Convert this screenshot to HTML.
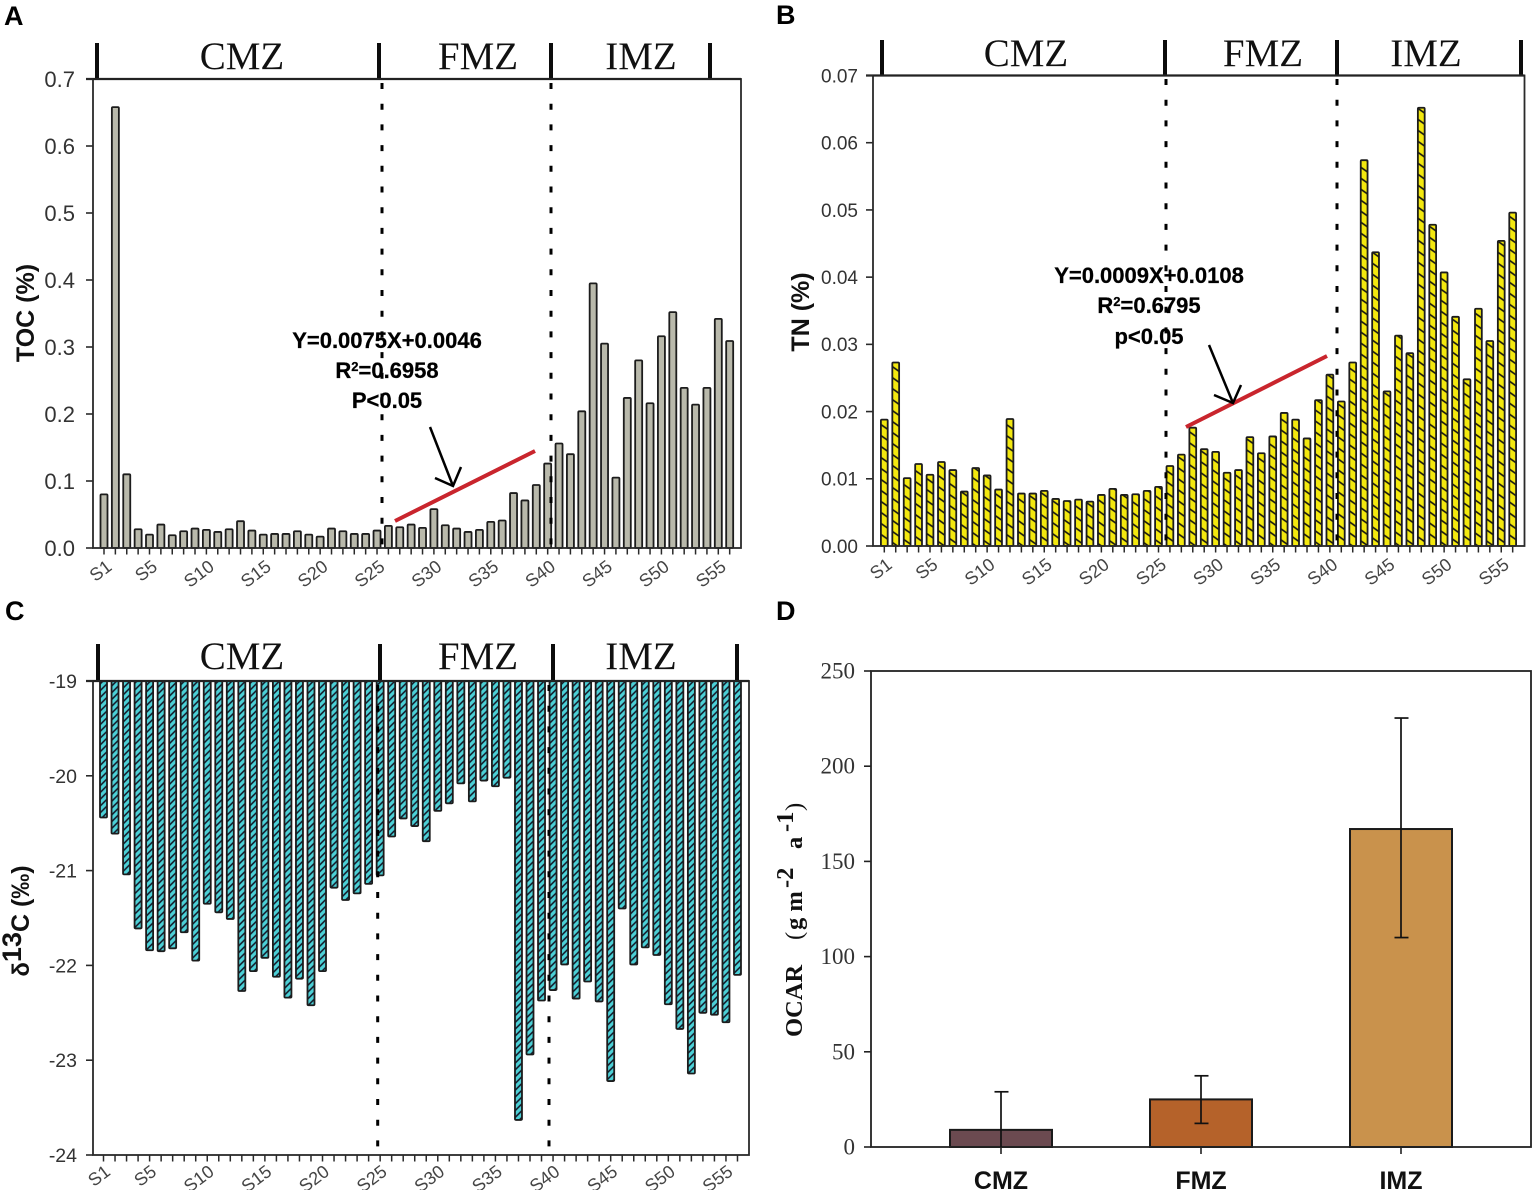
<!DOCTYPE html>
<html lang="en">
<head>
<meta charset="utf-8">
<title>TOC, TN, δ13C and OCAR by zone</title>
<style>
html,body{margin:0;padding:0;background:#fff;}
svg{display:block;}
text{font-family:"Liberation Sans",sans-serif;}
.serif{font-family:"Liberation Serif",serif;}
.zone{font-family:"Liberation Serif",serif;font-size:39px;fill:#111;text-anchor:middle;}
.letter{font-size:27px;font-weight:bold;fill:#000;}
.eq{font-size:22px;font-weight:bold;fill:#000;text-anchor:middle;stroke:#000;stroke-width:.25px;}
.ytitle{font-weight:bold;fill:#111;text-anchor:middle;}
</style>
</head>
<body>
<svg id="fig" xmlns="http://www.w3.org/2000/svg" width="1532" height="1190" viewBox="0 0 1532 1190">
<defs>
<pattern id="hatchB" patternUnits="userSpaceOnUse" width="9" height="9" patternTransform="rotate(35)">
<rect width="9" height="9" fill="#f3e80f"/><line x1="0" y1="4.5" x2="9" y2="4.5" stroke="#111" stroke-width="1.6"/>
</pattern>
<pattern id="hatchC" patternUnits="userSpaceOnUse" width="4.8" height="4.8" patternTransform="rotate(-45)">
<rect width="4.8" height="4.8" fill="#4cd0d6"/><line x1="0" y1="2.4" x2="4.8" y2="2.4" stroke="#112" stroke-width="1.5"/>
</pattern>
</defs>
<rect width="1532" height="1190" fill="#fff"/>

<text class="letter" x="4" y="25">A</text>
<text class="letter" x="776" y="24">B</text>
<text class="letter" x="5" y="620">C</text>
<text class="letter" x="776" y="620">D</text>

<g id="panelA"></g>
<g id="panelB"></g>
<g id="panelC"></g>
<g id="panelD"></g>

<text class="ytitle" font-size="25" transform="translate(34,313) rotate(-90)">TOC (%)</text>
<text class="ytitle" font-size="25" transform="translate(809,312) rotate(-90)">TN (%)</text>
<text class="ytitle" font-size="25" transform="translate(29,921) rotate(-90)"><tspan font-size="24">δ</tspan><tspan font-size="27" dy="-8">13</tspan><tspan dy="8">C (‰)</tspan></text>
<text class="ytitle serif" font-size="24.5" style="text-anchor:start" transform="translate(802,1037) rotate(-90)"><tspan x="0">OCAR</tspan><tspan x="97" font-weight="normal">(</tspan><tspan x="107">g m</tspan><tspan x="149" dy="-9">-2</tspan><tspan x="188" dy="9">a</tspan><tspan x="205" dy="-9">-1</tspan><tspan x="226" dy="9" font-weight="normal">)</tspan></text>

<g>
<text class="eq" x="387" y="348">Y=0.0075X+0.0046</text>
<text class="eq" x="387" y="378">R<tspan font-size="13" dy="-7">2</tspan><tspan dy="7">=0.6958</tspan></text>
<text class="eq" x="387" y="408">P&lt;0.05</text>
<line x1="395" y1="521" x2="535" y2="451" stroke="#c9252d" stroke-width="4"/>
<path d="M430 427 L453 486 M435 478 L453 486 L461 467" fill="none" stroke="#000" stroke-width="2.5"/>
</g>
<g>
<text class="eq" x="1149" y="283">Y=0.0009X+0.0108</text>
<text class="eq" x="1149" y="313">R<tspan font-size="13" dy="-7">2</tspan><tspan dy="7">=0.6795</tspan></text>
<text class="eq" x="1149" y="344">p&lt;0.05</text>
<line x1="1186" y1="427" x2="1327" y2="356" stroke="#c9252d" stroke-width="4"/>
<path d="M1209 345 L1233 403 M1214 395 L1233 403 L1241 385" fill="none" stroke="#000" stroke-width="2.5"/>
</g>
</svg>

<script>
var sampleTickLabels = ["S1","S5","S10","S15","S20","S25","S30","S35","S40","S45","S50","S55"];
var sampleTickNumbers = [1,5,10,15,20,25,30,35,40,45,50,55];

var tocValues = [0.08,0.658,0.11,0.028,0.02,0.035,0.019,0.025,0.029,0.027,0.024,0.028,0.04,0.026,0.02,0.021,0.021,0.025,0.02,0.017,0.029,0.025,0.021,0.021,0.026,0.033,0.031,0.035,0.03,0.058,0.034,0.029,0.024,0.027,0.039,0.041,0.082,0.071,0.094,0.126,0.156,0.14,0.204,0.395,0.305,0.105,0.224,0.28,0.216,0.316,0.352,0.239,0.214,0.239,0.342,0.309];
var tocTicks = [0,0.1,0.2,0.3,0.4,0.5,0.6,0.7];
var tocTickLabels = ["0.0","0.1","0.2","0.3","0.4","0.5","0.6","0.7"];

var tnValues = [0.0188,0.0273,0.0101,0.0122,0.0106,0.0125,0.0113,0.0081,0.0116,0.0105,0.0084,0.0189,0.0078,0.0078,0.0082,0.007,0.0067,0.0069,0.0066,0.0076,0.0085,0.0076,0.0077,0.0082,0.0088,0.0119,0.0136,0.0176,0.0144,0.014,0.0109,0.0113,0.0162,0.0138,0.0163,0.0198,0.0188,0.016,0.0217,0.0255,0.0215,0.0273,0.0574,0.0437,0.023,0.0313,0.0287,0.0652,0.0478,0.0407,0.0341,0.0248,0.0353,0.0305,0.0454,0.0496];
var tnTicks = [0,0.01,0.02,0.03,0.04,0.05,0.06,0.07];
var tnTickLabels = ["0.00","0.01","0.02","0.03","0.04","0.05","0.06","0.07"];

var d13cValues = [-20.44,-20.61,-21.04,-21.61,-21.84,-21.85,-21.82,-21.65,-21.95,-21.35,-21.44,-21.51,-22.27,-22.06,-21.92,-22.12,-22.34,-22.14,-22.42,-22.06,-21.18,-21.31,-21.24,-21.14,-21.05,-20.64,-20.45,-20.53,-20.69,-20.37,-20.29,-20.08,-20.27,-20.05,-20.11,-20.02,-23.63,-22.94,-22.37,-22.26,-21.99,-22.35,-22.17,-22.38,-23.22,-21.4,-21.99,-21.81,-21.89,-22.41,-22.67,-23.14,-22.5,-22.52,-22.6,-22.1];
var d13cTicks = [-19,-20,-21,-22,-23,-24];
var d13cTickLabels = ["-19","-20","-21","-22","-23","-24"];

var ocarCategories = ["CMZ","FMZ","IMZ"];
var ocarMeans = [9,25,167];
var ocarUpper = [29,37.4,225.3];
var ocarLower = [0,12.4,110];
var ocarColors = ["#6b4a50","#b5622a","#c9924c"];
var ocarTicks = [0,50,100,150,200,250];
var ocarTickLabels = ["0","50","100","150","200","250"];

var NS = "http://www.w3.org/2000/svg";
function mk(parent, tag, attrs, txt){
  var e = document.createElementNS(NS, tag);
  for (var k in attrs) e.setAttribute(k, attrs[k]);
  if (txt !== undefined) e.textContent = txt;
  parent.appendChild(e);
  return e;
}

function drawSamplePanel(cfg){
  var g = document.getElementById(cfg.id);
  var vMin = cfg.vBottom, vMax = cfg.vTop;
  function y(v){ return cfg.bottom + (v - vMin) / (vMax - vMin) * (cfg.top - cfg.bottom); }
  function x(i){ return cfg.x1 + i * cfg.step; }

  var zoneTicks = cfg.zoneTicks;
  for (var z = 0; z < zoneTicks.length; z++){
    var zt = mk(g, "line", {x1:zoneTicks[z], x2:zoneTicks[z], y1:cfg.zoneTop, y2:cfg.top, stroke:"#0c0c0c", "stroke-width":4});
    
    
  }
  var zn = ["CMZ","FMZ","IMZ"];
  for (var n = 0; n < 3; n++){
    var zl = mk(g, "text", {"class":"zone", x:cfg.zoneLabelX[n], y:cfg.zoneBase}, zn[n]);
    
    
  }

  var vals = cfg.values;
  for (var i = 0; i < vals.length; i++){
    var y0 = y(cfg.baseline), y1 = y(vals[i]);
    var r = mk(g, "rect", {x:x(i)-cfg.barW/2, y:Math.min(y0,y1), width:cfg.barW, height:Math.abs(y1-y0), rx:1, fill:cfg.fill, stroke:"#1c1c1c", "stroke-width":cfg.barStroke});
    
    
  }

  var frame = mk(g, "rect", {x:cfg.left, y:cfg.top, width:cfg.right-cfg.left, height:cfg.bottom-cfg.top, fill:"none", stroke:"#2a2a2a", "stroke-width":1.8});
  
  
  var topLine = mk(g, "line", {x1:cfg.left-7, x2:cfg.right, y1:cfg.top, y2:cfg.top, stroke:"#222", "stroke-width":2.2});
  
  

  for (var t = 0; t < cfg.ticks.length; t++){
    var tk = mk(g, "line", {x1:cfg.left-7, x2:cfg.left, y1:y(cfg.ticks[t]), y2:y(cfg.ticks[t]), stroke:"#2a2a2a", "stroke-width":1.6});
    
    
    var tl = mk(g, "text", {x:cfg.left-cfg.labelGap, y:y(cfg.ticks[t])+cfg.tickFont*0.36, "text-anchor":"end", "font-size":cfg.tickFont, fill:"#333"}, cfg.tickLabels[t]);
    
    
  }

  for (var b = 0; b < vals.length; b++){
    var xt = mk(g, "line", {x1:x(b), x2:x(b), y1:cfg.bottom, y2:cfg.bottom+6.5, stroke:"#2a2a2a", "stroke-width":1.5});
    
    
  }
  for (var s = 0; s < sampleTickLabels.length; s++){
    var px = x(sampleTickNumbers[s]-1) + cfg.labelDx, py = cfg.bottom + cfg.labelDy;
    var xl = mk(g, "text", {transform:"translate("+px+","+py+") rotate(-37)", "text-anchor":"end", "font-size":18, fill:"#444"}, sampleTickLabels[s]);
    
    
  }

  for (var d = 0; d < cfg.dotted.length; d++){
    var dl = mk(g, "line", {x1:cfg.dotted[d], x2:cfg.dotted[d], y1:cfg.dotStart, y2:cfg.bottom, stroke:"#000", "stroke-width":3, "stroke-dasharray":"6 14.7"});
    
    
  }
}

drawSamplePanel({id:"panelA", values:tocValues, ticks:tocTicks, tickLabels:tocTickLabels, vBottom:0, vTop:0.7, baseline:0,
  left:93, right:741, top:79, bottom:548, x1:104, step:11.376, barW:7, barStroke:1.8, fill:"#b9b9ab", tickFont:22, labelGap:18,
  labelDx:9, labelDy:21, zoneTicks:[97,379,551,710], zoneTop:43, zoneLabelX:[242,478,641], zoneBase:69, dotted:[382,551], dotStart:83, dotEnd:548});
drawSamplePanel({id:"panelB", values:tnValues, ticks:tnTicks, tickLabels:tnTickLabels, vBottom:0, vTop:0.07, baseline:0,
  left:873, right:1524.5, top:75.5, bottom:546, x1:884.3, step:11.425, barW:6.8, barStroke:1.8, fill:"url(#hatchB)", tickFont:19, labelGap:15,
  labelDx:9, labelDy:21, zoneTicks:[882,1165,1337,1521], zoneTop:40, zoneLabelX:[1026,1263,1426], zoneBase:66, dotted:[1166,1337], dotStart:79, dotEnd:546});
drawSamplePanel({id:"panelC", values:d13cValues, ticks:d13cTicks, tickLabels:d13cTickLabels, vBottom:-24, vTop:-19, baseline:-19,
  left:93, right:749, top:681, bottom:1155, x1:103.5, step:11.527, barW:7, barStroke:1.8, fill:"url(#hatchC)", tickFont:19.5, labelGap:16,
  labelDx:8, labelDy:19, zoneTicks:[98,380,553,737], zoneTop:644, zoneLabelX:[242,478,641], zoneBase:669, dotted:[377.7,549], dotStart:685, dotEnd:1155});

(function(){
  var g = document.getElementById("panelD");
  var left = 871, right = 1531, top = 671, bottom = 1147;
  function y(v){ return bottom - v / 250 * (bottom - top); }
  function x(i){ return 1001 + i * 200; }
  var barW = 102;
  for (var i = 0; i < ocarCategories.length; i++){
    var b = mk(g, "rect", {x:x(i)-barW/2, y:y(ocarMeans[i]), width:barW, height:bottom-y(ocarMeans[i]), fill:ocarColors[i], stroke:"#1a1a1a", "stroke-width":2});
    
    
  }
  var frame = mk(g, "rect", {x:left, y:top, width:right-left, height:bottom-top, fill:"none", stroke:"#222", "stroke-width":1.8});
  
  
  for (var t = 0; t < ocarTicks.length; t++){
    var tk = mk(g, "line", {x1:left-7, x2:left, y1:y(ocarTicks[t]), y2:y(ocarTicks[t]), stroke:"#222", "stroke-width":1.6});
    
    
    var tl = mk(g, "text", {"class":"serif", x:left-16, y:y(ocarTicks[t])+7.5, "text-anchor":"end", "font-size":23, fill:"#333"}, ocarTickLabels[t]);
    
    
  }
  for (var c = 0; c < ocarCategories.length; c++){
    var cx = x(c);
    var ct = mk(g, "line", {x1:cx, x2:cx, y1:bottom, y2:bottom+7, stroke:"#222", "stroke-width":1.6});
    
    
    var cl = mk(g, "text", {x:cx, y:1189, "text-anchor":"middle", "font-size":25, "font-weight":"bold", fill:"#111"}, ocarCategories[c]);
    
    
    var ev = mk(g, "line", {x1:cx, x2:cx, y1:y(ocarUpper[c]), y2:y(ocarLower[c]), stroke:"#111", "stroke-width":1.7});
    
    
    var capT = mk(g, "line", {x1:cx-6.5, x2:cx+7.5, y1:y(ocarUpper[c]), y2:y(ocarUpper[c]), stroke:"#111", "stroke-width":1.7});
    
    
    if (ocarLower[c] > 0){
      var capB = mk(g, "line", {x1:cx-6.5, x2:cx+7.5, y1:y(ocarLower[c]), y2:y(ocarLower[c]), stroke:"#111", "stroke-width":1.7});
      
      
    }
  }
})();
</script>
</body>
</html>
